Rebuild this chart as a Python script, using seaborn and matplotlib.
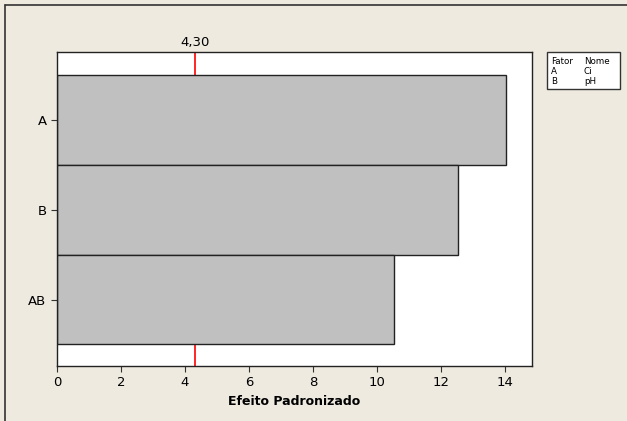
import matplotlib
matplotlib.use("Agg")
import matplotlib.pyplot as plt
import seaborn as sns
import pandas as pd

fatores = ["A", "B", "AB"]
efeitos = [14.02, 12.52, 10.52]
limite = 4.30
limite_label = "4,30"
xticks = [0, 2, 4, 6, 8, 10, 12, 14]
leg_fator = ["A", "B"]
leg_nome = ["Ci", "pH"]

bg = "#EEEAE0"
sns.set_style("white")
plt.rcParams["font.family"] = ["DejaVu Sans"]
plt.rcParams["text.color"] = "black"
plt.rcParams["axes.labelcolor"] = "black"
plt.rcParams["xtick.color"] = "black"
plt.rcParams["ytick.color"] = "black"

df = pd.DataFrame({"fator": fatores, "efeito": efeitos})

fig = plt.figure(figsize=(6.27, 4.21), dpi=100, facecolor=bg)
ax = fig.add_axes([57/627, 1-366/421, (532-57)/627, (366-52)/421])
ax.set_facecolor("white")
ax.axvline(limite, color="#FF0000", lw=1.2, zorder=0.5)
sns.barplot(data=df, x="efeito", y="fator", orient="h", color="#C0C0C0",
            saturation=1, width=1.0, edgecolor="#222222", linewidth=1.0, ax=ax)
for p in ax.patches:
    p.set_zorder(2)
ax.set_xlim(0, 14.84)
ax.set_ylim(2.74, -0.76)
ax.set_xticks(xticks)
ax.set_xticklabels([str(t) for t in xticks], fontsize=9.5)
ax.tick_params(axis="y", labelsize=9.5, length=4, left=True, color="#333333")
ax.tick_params(axis="x", length=4, bottom=True, color="#333333")
ax.set_ylabel("")
ax.set_xlabel("Efeito Padronizado", fontsize=9, fontweight="bold", color="black")
for s in ax.spines.values():
    s.set_color("#222222")
    s.set_linewidth(1.0)
ax.text(limite, 1.01, limite_label, transform=ax.get_xaxis_transform(),
        ha="center", va="bottom", fontsize=9.5, color="black")

# frame lines (left and top)
fig.add_artist(plt.Line2D([5/627, 5/627], [0, 1-5/421], color="#333333", lw=1.2, transform=fig.transFigure))
fig.add_artist(plt.Line2D([5/627, 1], [1-5/421, 1-5/421], color="#333333", lw=1.2, transform=fig.transFigure))

# legend box
lx0, lx1, ly0, ly1 = 547, 620, 52, 89
fig.add_artist(plt.Rectangle((lx0/627, 1-ly1/421), (lx1-lx0)/627, (ly1-ly0)/421,
                             facecolor="white", edgecolor="#333333", lw=1.0, transform=fig.transFigure))
rows = [("Fator", "Nome")] + list(zip(leg_fator, leg_nome))
for i, (f, n) in enumerate(rows):
    y = 1 - (61 + i*10)/421
    fig.text(551/627, y, f, fontsize=6.3, va="center", ha="left", color="black")
    fig.text(584/627, y, n, fontsize=6.3, va="center", ha="left", color="black")

fig.savefig("out.png", dpi=100, facecolor=bg)
